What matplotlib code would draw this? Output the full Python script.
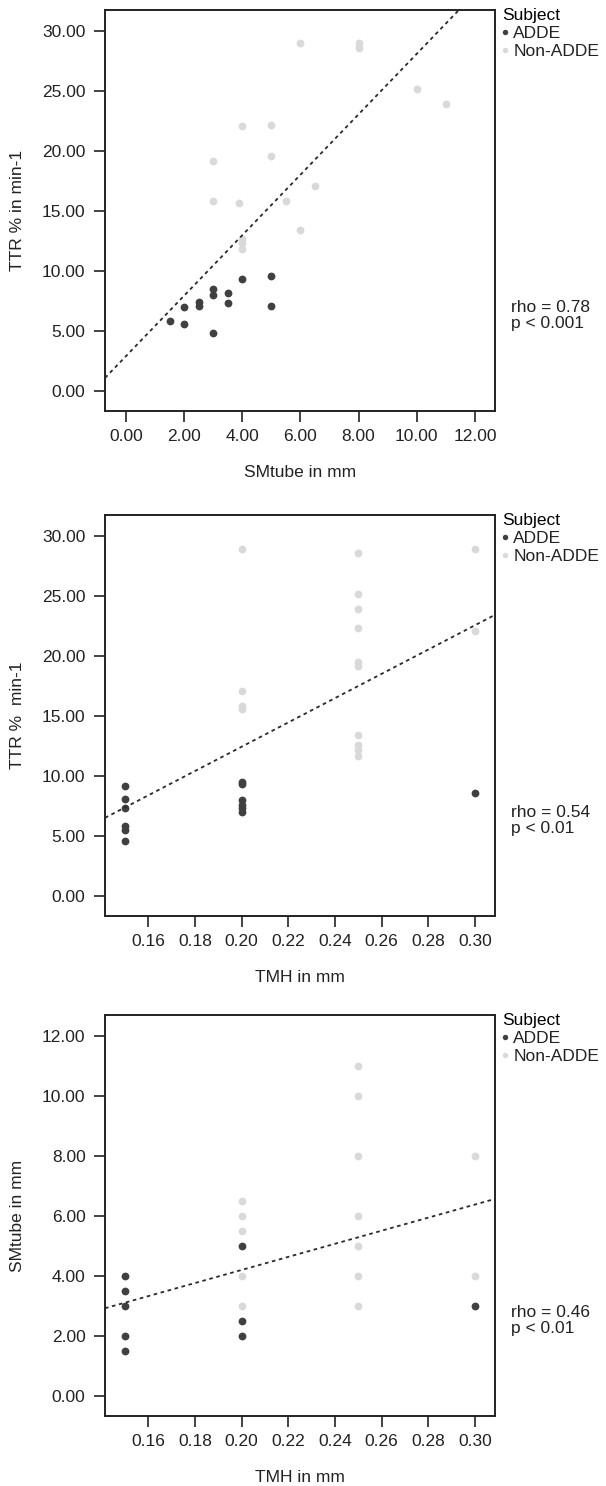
import matplotlib.pyplot as plt
import numpy as np

plt.rcParams['font.family'] = ['Liberation Sans', 'DejaVu Sans']
plt.rcParams['font.size'] = 12.5

# === Data ===
# Panel 1: SMtube vs TTR
smtube_adde_1 = [1.5, 2, 2, 2.5, 2.5, 3, 3, 3, 3.5, 3.5, 4, 5, 5]
ttr_adde_1 = [5.8, 7.0, 5.6, 7.4, 7.1, 8.5, 8.0, 4.8, 8.2, 7.3, 9.3, 9.6, 7.1]
smtube_non_1 = [6, 8, 8, 10, 11, 4, 5, 3, 5, 6.5, 3, 3.9, 5.5, 6, 4, 4, 4]
ttr_non_1 = [29.0, 29.0, 28.6, 25.2, 23.9, 22.1, 22.2, 19.2, 19.6, 17.1,
             15.8, 15.7, 15.8, 13.4, 12.7, 12.3, 11.8]

# Panel 2: TMH vs TTR
tmh_adde_2 = [0.15, 0.15, 0.15, 0.15, 0.15, 0.15,
              0.20, 0.20, 0.20, 0.20, 0.20, 0.20, 0.30]
ttr_adde_2 = [9.2, 8.1, 7.3, 5.8, 5.5, 4.6, 9.5, 9.3, 8.0, 7.6, 7.3, 7.0, 8.6]
tmh_non_2 = [0.20, 0.20, 0.20, 0.20,
             0.25, 0.25, 0.25, 0.25, 0.25, 0.25, 0.25, 0.25, 0.25, 0.25,
             0.30, 0.30]
ttr_non_2 = [28.9, 17.1, 15.8, 15.6,
             28.6, 25.2, 23.9, 22.3, 19.5, 19.2, 13.4, 12.6, 12.2, 11.7,
             28.9, 22.1]

# Panel 3: TMH vs SMtube
tmh_adde_3 = [0.15, 0.15, 0.15, 0.15, 0.15, 0.20, 0.20, 0.20, 0.30]
smtube_adde_3 = [4.0, 3.5, 3.0, 2.0, 1.5, 5.0, 2.5, 2.0, 3.0]
tmh_non_3 = [0.20, 0.20, 0.20, 0.20, 0.20,
             0.25, 0.25, 0.25, 0.25, 0.25, 0.25, 0.25, 0.30, 0.30]
smtube_non_3 = [6.5, 6.0, 5.5, 4.0, 3.0, 11, 10, 8, 6, 5, 4, 3, 8, 4]

# fit lines (intercept, slope)
fits = [(2.9, 2.52), (-7.8, 101.2), (-0.16, 21.8)]
stats = ["rho = 0.78\np < 0.001", "rho = 0.54\np < 0.01", "rho = 0.46\np < 0.01"]

xlabels = ["SMtube in mm", "TMH in mm", "TMH in mm"]
ylabels = ["TTR % in min-1", "TTR %  min-1", "SMtube in mm"]

dark = "#404040"
light = "#d9d9d9"

W, H = 606, 1486
fig = plt.figure(figsize=(W / 100, H / 100), dpi=100)

panels = [
    (smtube_adde_1, ttr_adde_1, smtube_non_1, ttr_non_1),
    (tmh_adde_2, ttr_adde_2, tmh_non_2, ttr_non_2),
    (tmh_adde_3, smtube_adde_3, tmh_non_3, smtube_non_3),
]
tops = [10, 515, 1015]
xlims = [(-0.72, 12.69), (0.1414, 0.3086), (0.1414, 0.3086)]
ylims = [(-1.67, 31.75), (-1.67, 31.75), (-0.67, 12.7)]
xticks = [np.arange(0, 12.01, 2), np.arange(0.16, 0.301, 0.02), np.arange(0.16, 0.301, 0.02)]
yticks = [np.arange(0, 30.01, 5), np.arange(0, 30.01, 5), np.arange(0, 12.01, 2)]

for i, (xa, ya, xn, yn) in enumerate(panels):
    left, right = 105, 495
    top, bottom = tops[i], tops[i] + 401
    ax = fig.add_axes([left / W, (H - bottom) / H, (right - left) / W, (bottom - top) / H])

    ax.plot(xa, ya, 'o', color=dark, ms=5.6, mec='none', label='ADDE', zorder=3)
    ax.plot(xn, yn, 'o', color=light, ms=5.6, mec='none', label='Non-ADDE', zorder=2)
    b, m = fits[i]
    ax.axline((0, b), slope=m, color='#2a2a2a', lw=1.3, ls=(0, (2, 2)), zorder=4)

    ax.set_xlim(*xlims[i])
    ax.set_ylim(*ylims[i])
    ax.set_xticks(xticks[i])
    ax.set_yticks(yticks[i])
    ax.xaxis.set_major_formatter(plt.FormatStrFormatter('%.2f'))
    ax.yaxis.set_major_formatter(plt.FormatStrFormatter('%.2f'))
    ax.tick_params(direction='out', length=8, width=1.2, color='#222222',
                   labelsize=12.5, labelcolor='#222222')
    ax.tick_params(axis='y', pad=6)
    ax.tick_params(axis='x', pad=5)
    for s in ax.spines.values():
        s.set_linewidth(1.4)
        s.set_color('#222222')

    ax.set_xlabel(xlabels[i], fontsize=12.5, color='#222222')
    ax.set_ylabel(ylabels[i], fontsize=12.5, color='#222222')
    ax.xaxis.set_label_coords(0.5, -0.135)
    ax.yaxis.set_label_coords(-0.205, 0.5)

    leg = ax.legend(title='Subject', loc='upper left', bbox_to_anchor=(1.0, 1.022),
                    frameon=False, handlelength=0.4, handletextpad=0.25,
                    borderaxespad=0.2, borderpad=0.2, labelspacing=0.15,
                    markerscale=0.7, fontsize=12.5, title_fontsize=12.5,
                    alignment='left')
    for t in leg.get_texts():
        t.set_color('#222222')

    ax.text(1.04, 0.238, stats[i], transform=ax.transAxes, va='center', ha='left',
            fontsize=12.5, linespacing=1.15, color='#222222')

fig.savefig("out.png", dpi=100)
